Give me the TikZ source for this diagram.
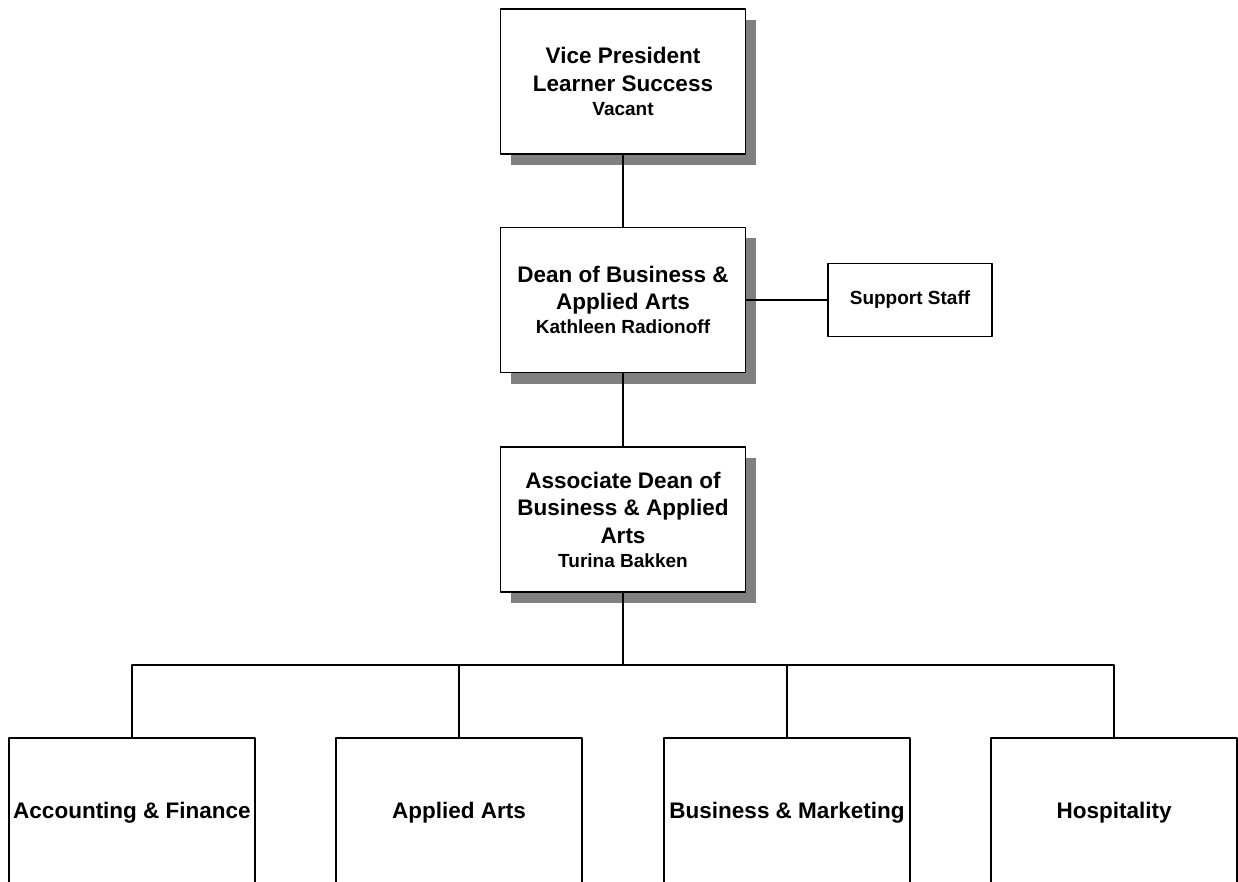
\documentclass[tikz,border=0pt]{standalone}
\usepackage{fontspec}
\setmainfont{Liberation Sans}
\usetikzlibrary{shadows}
\tikzset{
	post/.style={draw, line width=1.2pt, fill=white, inner sep=0pt, align=center, font=\bfseries\fontsize{22.5}{27.5}\selectfont},
	headpost/.style={post, minimum width=245pt, minimum height=145pt,
		drop shadow={shadow xshift=10pt, shadow yshift=-11pt, fill=black!50, opacity=1}},
	unitpost/.style={post, minimum width=246pt, minimum height=149pt},
	staffpost/.style={post, minimum width=164pt, minimum height=73pt, font=\bfseries\fontsize{19}{24}\selectfont},
	link/.style={line width=1.6pt}
}
\newcommand{\holder}[1]{\\[-3.5pt]{\fontsize{19}{24}\selectfont #1}}

\begin{document}
\begin{tikzpicture}[x=1pt, y=-1pt, line join=round]
	\useasboundingbox (0,0) rectangle (1238,882);
	\clip (0,0) rectangle (1238,882);
	
	\path
		(623,81.5) coordinate (P)
		(623,300) coordinate (D)
		(910,300) coordinate (S)
		(623,519.5) coordinate (A)
		(623,665) coordinate (bus)
	;
	
	\node[headpost] (vp) at (P) {Vice President\\Learner Success\holder{Vacant}};
	\node[headpost] (dean) at (D) {Dean of Business \&\\Applied Arts\holder{Kathleen Radionoff}};
	\node[staffpost] (staff) at (S) {Support Staff};
	\node[headpost] (assoc) at (A) {Associate Dean of\\Business \& Applied\\Arts\holder{Turina Bakken}};
	
	\draw[link]
		(vp) -- (dean)
		(dean) -- (staff)
		(dean) -- (assoc)
		(assoc) -- (bus)
	;
	
	\foreach \x/\name/\txt in {132/acct/Accounting \& Finance, 459/arts/Applied Arts, 787/bizm/Business \& Marketing, 1114/hosp/Hospitality}{
		\node[unitpost] (\name) at (\x,812.5) {\txt};
		\draw[link] (bus) -| (\name.north);
	}
\end{tikzpicture}
\end{document}
